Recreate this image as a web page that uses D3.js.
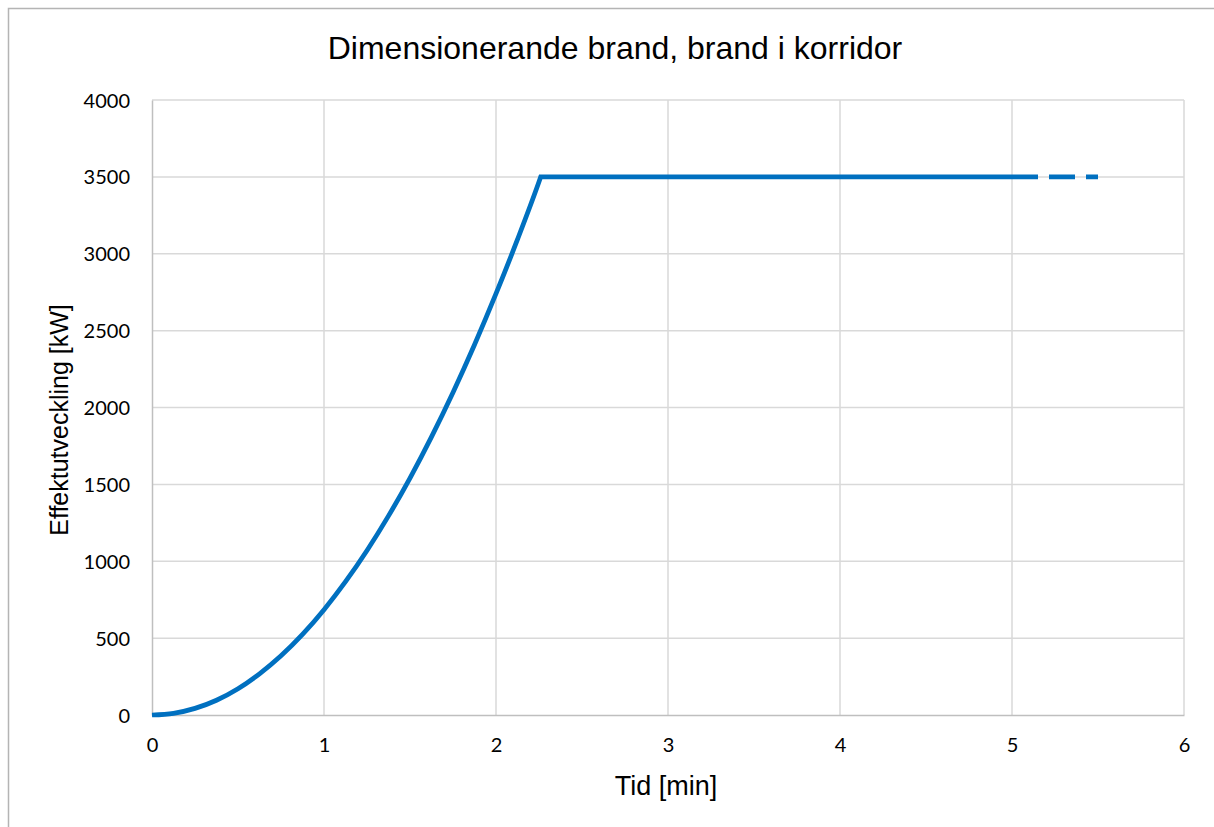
<!DOCTYPE html>
<html>
<head>
<meta charset="utf-8">
<script src="https://cdn.jsdelivr.net/npm/d3@7"></script>
<style>
  html, body { margin: 0; padding: 0; background: #fff; }
  svg { display: block; }
</style>
</head>
<body>
<svg id="chart" width="1214" height="827"></svg>
<script>
// ---- data ----
const title = "Dimensionerande brand, brand i korridor";
const xLabel = "Tid [min]";
const yLabel = "Effektutveckling [kW]";

// solid series: time [min] and heat release [kW]
const timeSolid = [0, 0.125, 0.25, 0.375, 0.5, 0.625, 0.75, 0.875, 1, 1.125, 1.25, 1.375, 1.5, 1.625, 1.75, 1.875, 2, 2.125, 2.25, 2.26, 3, 4, 5];
const powerSolid = [0, 11, 43, 96, 171, 268, 385, 524, 685, 867, 1070, 1295, 1541, 1809, 2098, 2408, 2740, 3093, 3468, 3500, 3500, 3500, 3500];

// dashed continuation
const timeDashed = [5, 5.5];
const powerDashed = [3500, 3500];

const xTicks = [0, 1, 2, 3, 4, 5, 6];
const yTicks = [0, 500, 1000, 1500, 2000, 2500, 3000, 3500, 4000];

// ---- layout ----
const svg = d3.select("#chart");
const plot = { left: 152, right: 1184, top: 100, bottom: 715 };

const x = d3.scaleLinear().domain([0, 6]).range([plot.left, plot.right]);
const y = d3.scaleLinear().domain([0, 4000]).range([plot.bottom, plot.top]);

// outer chart border
svg.append("rect")
  .attr("x", 8.5).attr("y", 8.5)
  .attr("width", 1230).attr("height", 840)
  .attr("fill", "none").attr("stroke", "#b4b4b4").attr("stroke-width", 1.5);

// gridlines
const grid = svg.append("g");
grid.selectAll("line.h").data(yTicks.filter(d => d !== 0)).join("line")
  .attr("x1", plot.left).attr("x2", plot.right)
  .attr("y1", d => y(d)).attr("y2", d => y(d))
  .attr("stroke", "#d9d9d9").attr("stroke-width", 1.5);
grid.selectAll("line.v").data(xTicks.filter(d => d !== 0)).join("line")
  .attr("x1", d => x(d)).attr("x2", d => x(d))
  .attr("y1", plot.top).attr("y2", plot.bottom)
  .attr("stroke", "#d9d9d9").attr("stroke-width", 1.5);

// axes
const xAxis = svg.append("g").attr("transform", `translate(0,${plot.bottom})`)
  .call(d3.axisBottom(x).tickValues(xTicks).tickSize(0).tickPadding(22).tickFormat(d3.format("d")));
const yAxis = svg.append("g").attr("transform", `translate(${plot.left},0)`)
  .call(d3.axisLeft(y).tickValues(yTicks).tickSize(0).tickPadding(22).tickFormat(d3.format("d")));
[xAxis, yAxis].forEach(a => {
  a.select(".domain").attr("stroke", "#bfbfbf").attr("stroke-width", 1.5);
  a.selectAll("text").attr("font-family", "Lato, 'Open Sans', sans-serif")
    .attr("font-size", 20).attr("fill", "#000");
});
xAxis.selectAll("text").attr("dy", "0.71em").attr("y", 23);
yAxis.selectAll("text").attr("dy", "0.35em");

// line
const solidData = d3.zip(timeSolid, powerSolid);
const dashedData = d3.zip(timeDashed, powerDashed);
const peakIdx = powerSolid.indexOf(d3.max(powerSolid));
const risingData = solidData.slice(0, peakIdx + 1);
const flatData = solidData.slice(peakIdx);

const smooth = d3.line().x(d => x(d[0])).y(d => y(d[1])).curve(d3.curveMonotoneX);
const straight = d3.line().x(d => x(d[0])).y(d => y(d[1]));

svg.append("path").datum(dashedData)
  .attr("d", straight).attr("fill", "none")
  .attr("stroke", "#0070c0").attr("stroke-width", 4.75)
  .attr("stroke-dasharray", "26,11");
svg.append("path")
  .attr("d", smooth(risingData) + straight(flatData).replace(/^M/, "L"))
  .attr("fill", "none")
  .attr("stroke", "#0070c0").attr("stroke-width", 4.75)
  .attr("stroke-linejoin", "miter");

// title and axis labels
svg.append("text").attr("x", 615).attr("y", 59)
  .attr("text-anchor", "middle")
  .attr("font-family", "'Liberation Sans', Arial, sans-serif")
  .attr("font-size", 32).attr("fill", "#000").text(title);

svg.append("text").attr("x", 666).attr("y", 795)
  .attr("text-anchor", "middle")
  .attr("font-family", "'Liberation Sans', Arial, sans-serif")
  .attr("font-size", 27).attr("fill", "#000").text(xLabel);

svg.append("text")
  .attr("transform", `translate(68,420) rotate(-90)`)
  .attr("text-anchor", "middle")
  .attr("font-family", "'Liberation Sans', Arial, sans-serif")
  .attr("font-size", 25).attr("fill", "#000").text(yLabel);
</script>
</body>
</html>
